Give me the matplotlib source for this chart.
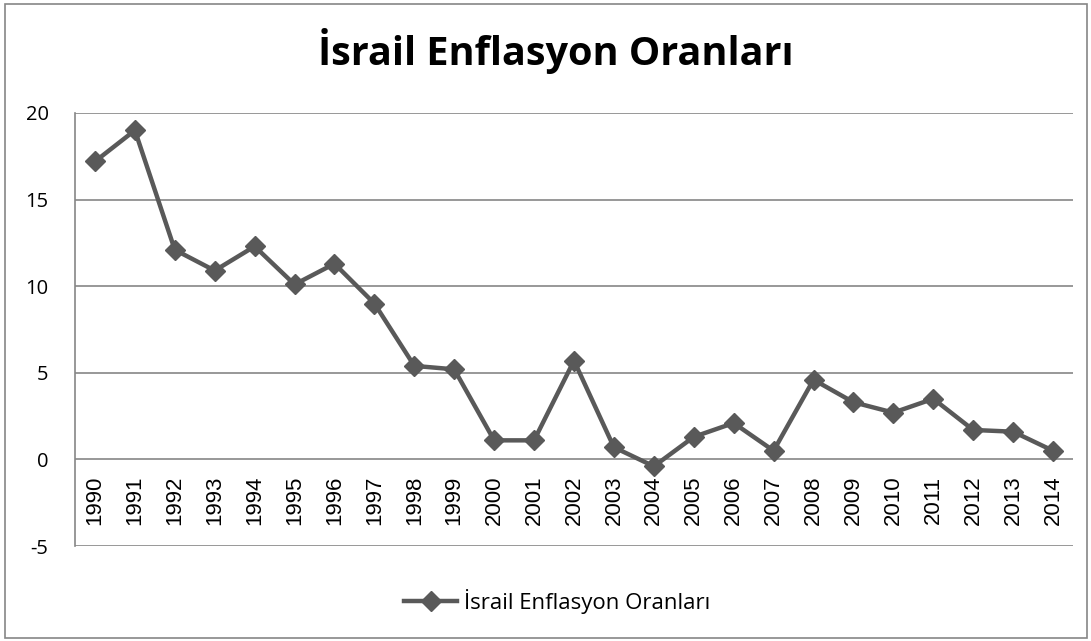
import matplotlib
matplotlib.use("Agg")
import matplotlib.pyplot as plt
from matplotlib.patches import Rectangle
from matplotlib.lines import Line2D

years = [str(y) for y in range(1990, 2015)]
inflation = [17.2, 19.0, 12.1, 10.9, 12.3, 10.1, 11.3, 9.0, 5.4, 5.2,
             1.1, 1.1, 5.7, 0.7, -0.4, 1.3, 2.1, 0.5, 4.6, 3.3,
             2.7, 3.5, 1.7, 1.6, 0.5]
series_name = "İsrail Enflasyon Oranları"
y_ticks = [-5, 0, 5, 10, 15, 20]

fig = plt.figure(figsize=(10.91, 6.41), dpi=100)
fig.patch.set_facecolor("white")
fig.add_artist(Rectangle((5/1091, 3/641), 1082/1091, 634/641, transform=fig.transFigure,
                         fill=False, edgecolor="#868686", linewidth=1.2))

ax = fig.add_axes([75/1091, 1-546/641, 998/1091, 433/641])
x = list(range(len(years)))
color = "#595959"
ax.plot(x, inflation, color=color, linewidth=3.2, marker="D", markersize=10,
        markeredgecolor=color, markerfacecolor=color, zorder=3)

ax.set_xlim(-0.5, len(years) - 0.5)
ax.set_ylim(-5, 20)
ax.set_yticks(y_ticks)
ax.set_yticklabels([str(v) for v in y_ticks], fontsize=14.5, fontfamily="Open Sans")
ax.tick_params(axis="y", length=0, pad=19)
ax.grid(axis="y", color="#868686", linewidth=1.2)
ax.set_axisbelow(True)
for s in ["top", "right", "bottom"]:
    ax.spines[s].set_visible(False)
ax.spines["left"].set_color("#868686")
ax.spines["left"].set_linewidth(1.2)

ax.set_xticks([])
for i, yr in enumerate(years):
    ax.text(i, -0.95, yr, rotation=90, ha="center", va="top", fontsize=16,
            fontfamily="Liberation Sans", color="black")

fig.text(556/1091, 1-51/641, series_name, ha="center", va="center", fontsize=28.5,
         fontweight="bold", fontfamily="Open Sans")

handle = Line2D([], [], color=color, linewidth=3.2, marker="D", markersize=10,
                markerfacecolor=color, markeredgecolor=color)
fig.legend([handle], [series_name], loc="center", bbox_to_anchor=(557/1091, 1-601/641),
           frameon=False, prop={"family": "Open Sans", "size": 16}, handlelength=2.4,
           handletextpad=0.3)

fig.savefig("out.png", dpi=100)
